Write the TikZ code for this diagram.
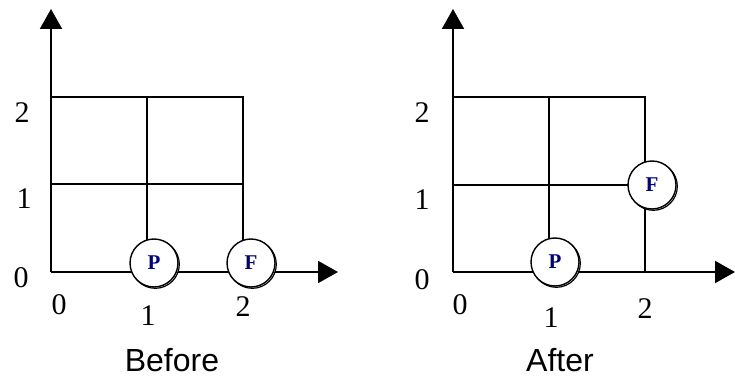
\documentclass[tikz,border=0pt]{standalone}
\usepackage{fontspec}
\setmainfont{Liberation Serif}
\newfontfamily\capfont{Liberation Sans}
\usetikzlibrary{arrows.meta,shadows}
\definecolor{ballblue}{RGB}{0,0,128}
\tikzset{
  gridline/.style={line width=2pt},
  axisline/.style={line width=2pt,-{Triangle[length=20pt,width=22pt]}},
  numlabel/.style={inner sep=0pt,font=\fontsize{30}{30}\selectfont},
  caption/.style={inner sep=0pt,font=\capfont\fontsize{32}{32}\selectfont},
  ball/.style={circle,draw,fill=white,line width=1.4pt,minimum size=48pt,inner sep=0pt,
    text=ballblue,font=\bfseries\fontsize{21}{21}\selectfont,
    copy shadow={shadow xshift=1.3pt,shadow yshift=-1.3pt,draw=black,fill=white,opacity=1,line width=1.2pt}}
}
\begin{document}
\begin{tikzpicture}[x=1pt,y=-1pt]
\useasboundingbox (0,0) rectangle (735,379);
% ---------- Before ----------
\coordinate (oA) at (51,272);
\coordinate (yA) at (51,9);
\coordinate (xA) at (338,272);
\coordinate (tlA) at (51,97);
\coordinate (trA) at (243,97);
\coordinate (brA) at (243,272);
\coordinate (tmA) at (147,97);
\coordinate (bmA) at (147,272);
\coordinate (mlA) at (51,184);
\coordinate (mrA) at (243,184);
\draw[gridline] (tlA) -- (trA) -- (brA);
\draw[gridline] (tmA) -- (bmA);
\draw[gridline] (mlA) -- (mrA);
\draw[axisline] (oA) -- (yA);
\draw[axisline] (oA) -- (xA);
\node[ball] (pA) at (154,263) {P};
\node[ball] (fA) at (251,263) {F};
\node[numlabel] (y2A) at (22,113) {2};
\node[numlabel] (y1A) at (24,199) {1};
\node[numlabel] (y0A) at (21,278) {0};
\node[numlabel] (x0A) at (59,305) {0};
\node[numlabel] (x1A) at (148,316) {1};
\node[numlabel] (x2A) at (243,307) {2};
\node[caption] (capA) at (172,360) {Before};
% ---------- After ----------
\coordinate (oB) at (453,272);
\coordinate (yB) at (453,9);
\coordinate (xB) at (735,272);
\coordinate (tlB) at (453,97);
\coordinate (trB) at (645,97);
\coordinate (brB) at (645,272);
\coordinate (tmB) at (549,97);
\coordinate (bmB) at (549,272);
\coordinate (mlB) at (453,185);
\coordinate (mrB) at (645,185);
\draw[gridline] (tlB) -- (trB) -- (brB);
\draw[gridline] (tmB) -- (bmB);
\draw[gridline] (mlB) -- (mrB);
\draw[axisline] (oB) -- (yB);
\draw[axisline] (oB) -- (xB);
\node[ball] (pB) at (555,262) {P};
\node[ball] (fB) at (652,185) {F};
\node[numlabel] (y2B) at (422,113) {2};
\node[numlabel] (y1B) at (422,200) {1};
\node[numlabel] (y0B) at (422,280) {0};
\node[numlabel] (x0B) at (460,305) {0};
\node[numlabel] (x1B) at (551,318) {1};
\node[numlabel] (x2B) at (645,309) {2};
\node[caption] (capB) at (560,360) {After};
\end{tikzpicture}
\end{document}
